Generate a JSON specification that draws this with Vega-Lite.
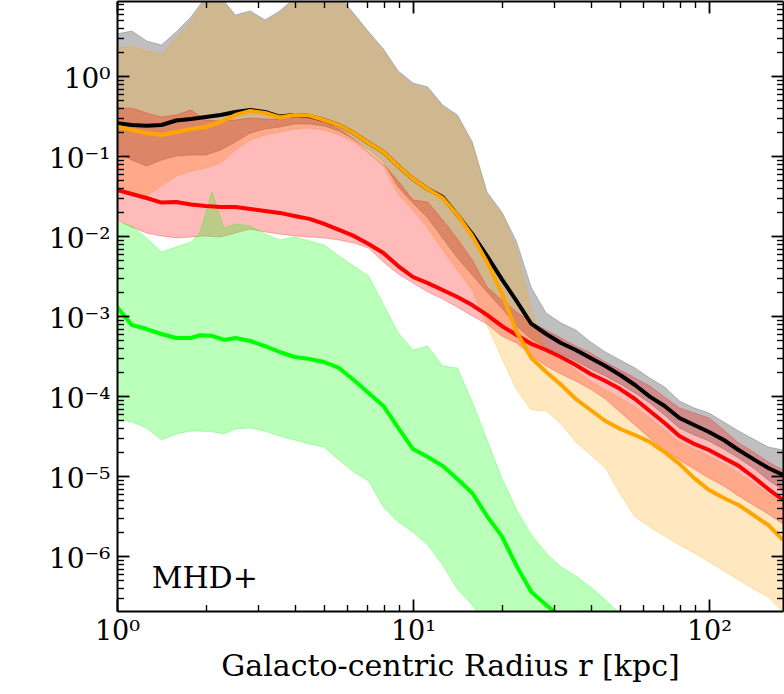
{
"$schema": "https://vega.github.io/schema/vega-lite/v6.json",
"width": 666, "height": 610,
"autosize": {"type": "none"},
"padding": {"left": 117, "top": 1, "right": 1, "bottom": 83},
"background": "white",
"config": {"view": {"stroke": null}, "axis": {"grid": false}},
"datasets": {"bands": [
{"s":"gray","r":1,"lo":0.1125,"hi":3.38,"m":0.2585},
{"s":"gray","r":1.122,"lo":0.09,"hi":3.68,"m":0.246},
{"s":"gray","r":1.259,"lo":0.0757,"hi":2.76,"m":0.241},
{"s":"gray","r":1.413,"lo":0.09,"hi":2.46,"m":0.246},
{"s":"gray","r":1.585,"lo":0.101,"hi":3.58,"m":0.28},
{"s":"gray","r":1.778,"lo":0.1038,"hi":5.51,"m":0.292},
{"s":"gray","r":1.995,"lo":0.1038,"hi":9.8,"m":0.31},
{"s":"gray","r":2.239,"lo":0.12,"hi":9.8,"m":0.328},
{"s":"gray","r":2.512,"lo":0.151,"hi":5.84,"m":0.358},
{"s":"gray","r":2.818,"lo":0.1955,"hi":6.55,"m":0.379},
{"s":"gray","r":3.162,"lo":0.2195,"hi":5.06,"m":0.358},
{"s":"gray","r":3.548,"lo":0.2324,"hi":6.55,"m":0.314},
{"s":"gray","r":3.981,"lo":0.2535,"hi":9.5,"m":0.328},
{"s":"gray","r":4.467,"lo":0.2535,"hi":11.3,"m":0.319},
{"s":"gray","r":5.012,"lo":0.2393,"hi":11.3,"m":0.284},
{"s":"gray","r":5.623,"lo":0.207,"hi":10.1,"m":0.246},
{"s":"gray","r":6.31,"lo":0.1645,"hi":6.1,"m":0.195},
{"s":"gray","r":7.079,"lo":0.12,"hi":3.6,"m":0.1466},
{"s":"gray","r":7.943,"lo":0.0849,"hi":2.19,"m":0.113},
{"s":"gray","r":8.913,"lo":0.0413,"hi":1.165,"m":0.0757},
{"s":"gray","r":10,"lo":0.0261,"hi":0.824,"m":0.052},
{"s":"gray","r":11.22,"lo":0.01694,"hi":0.735,"m":0.039},
{"s":"gray","r":12.59,"lo":0.00953,"hi":0.438,"m":0.031},
{"s":"gray","r":14.13,"lo":0.00536,"hi":0.328,"m":0.01846},
{"s":"gray","r":15.85,"lo":0.00328,"hi":0.151,"m":0.0107},
{"s":"gray","r":17.78,"lo":0.00201,"hi":0.0358,"m":0.00568},
{"s":"gray","r":19.95,"lo":0.00127,"hi":0.0201,"m":0.00292},
{"s":"gray","r":22.39,"lo":0.000757,"hi":0.0085,"m":0.00155},
{"s":"gray","r":25.12,"lo":0.00052,"hi":0.00226,"m":0.000802},
{"s":"gray","r":28.18,"lo":0.000402,"hi":0.0011,"m":0.000601},
{"s":"gray","r":31.62,"lo":0.000338,"hi":0.000824,"m":0.000464},
{"s":"gray","r":35.48,"lo":0.000276,"hi":0.000674,"m":0.000379},
{"s":"gray","r":39.81,"lo":0.000219,"hi":0.000478,"m":0.000301},
{"s":"gray","r":44.67,"lo":0.0001795,"hi":0.000358,"m":0.000239},
{"s":"gray","r":50.12,"lo":0.0001426,"hi":0.000284,"m":0.0001846},
{"s":"gray","r":56.23,"lo":0.00011,"hi":0.000226,"m":0.0001384},
{"s":"gray","r":63.1,"lo":8.24e-5,"hi":0.000169,"m":9.89e-5},
{"s":"gray","r":70.79,"lo":5.83e-5,"hi":0.000131,"m":7.57e-5},
{"s":"gray","r":79.43,"lo":4.02e-5,"hi":8.73e-5,"m":5.36e-5},
{"s":"gray","r":89.13,"lo":3.28e-5,"hi":7.14e-5,"m":4.38e-5},
{"s":"gray","r":100,"lo":2.76e-5,"hi":6.18e-5,"m":3.58e-5},
{"s":"gray","r":112.2,"lo":2.19e-5,"hi":4.77e-5,"m":2.84e-5},
{"s":"gray","r":125.9,"lo":1.69e-5,"hi":3.68e-5,"m":2.13e-5},
{"s":"gray","r":141.3,"lo":1.27e-5,"hi":2.92e-5,"m":1.64e-5},
{"s":"gray","r":158.5,"lo":8.99e-6,"hi":2.32e-5,"m":1.27e-5},
{"s":"gray","r":177.8,"lo":6.74e-6,"hi":2.13e-5,"m":1.04e-5},
{"s":"orange","r":1,"lo":0.0358,"hi":2.26,"m":0.2344},
{"s":"orange","r":1.122,"lo":0.0338,"hi":2.39,"m":0.2133},
{"s":"orange","r":1.259,"lo":0.0319,"hi":2.07,"m":0.1955},
{"s":"orange","r":1.413,"lo":0.0425,"hi":1.9,"m":0.1846},
{"s":"orange","r":1.585,"lo":0.0567,"hi":3.01,"m":0.2014},
{"s":"orange","r":1.778,"lo":0.0655,"hi":4.77,"m":0.2195},
{"s":"orange","r":1.995,"lo":0.0714,"hi":9.2,"m":0.2324},
{"s":"orange","r":2.239,"lo":0.0824,"hi":9.2,"m":0.2685},
{"s":"orange","r":2.512,"lo":0.12,"hi":5.5,"m":0.328},
{"s":"orange","r":2.818,"lo":0.16,"hi":6.2,"m":0.368},
{"s":"orange","r":3.162,"lo":0.1846,"hi":4.8,"m":0.3477},
{"s":"orange","r":3.548,"lo":0.2014,"hi":6.2,"m":0.3055},
{"s":"orange","r":3.981,"lo":0.2195,"hi":9.0,"m":0.328},
{"s":"orange","r":4.467,"lo":0.226,"hi":10.7,"m":0.3236},
{"s":"orange","r":5.012,"lo":0.2133,"hi":10.7,"m":0.284},
{"s":"orange","r":5.623,"lo":0.1846,"hi":9.5,"m":0.246},
{"s":"orange","r":6.31,"lo":0.151,"hi":5.75,"m":0.195},
{"s":"orange","r":7.079,"lo":0.11,"hi":3.4,"m":0.1466},
{"s":"orange","r":7.943,"lo":0.0757,"hi":2.07,"m":0.113},
{"s":"orange","r":8.913,"lo":0.0338,"hi":1.1,"m":0.0757},
{"s":"orange","r":10,"lo":0.0213,"hi":0.78,"m":0.052},
{"s":"orange","r":11.22,"lo":0.0127,"hi":0.69,"m":0.039},
{"s":"orange","r":12.59,"lo":0.00674,"hi":0.41,"m":0.0301},
{"s":"orange","r":14.13,"lo":0.00379,"hi":0.31,"m":0.01846},
{"s":"orange","r":15.85,"lo":0.00213,"hi":0.143,"m":0.01009},
{"s":"orange","r":17.78,"lo":0.000778,"hi":0.0319,"m":0.00477},
{"s":"orange","r":19.95,"lo":0.000301,"hi":0.019,"m":0.00195},
{"s":"orange","r":22.39,"lo":0.00012,"hi":0.00714,"m":0.000637},
{"s":"orange","r":25.12,"lo":6.74e-5,"hi":0.0012,"m":0.000301},
{"s":"orange","r":28.18,"lo":6.55e-5,"hi":0.000358,"m":0.000201},
{"s":"orange","r":31.62,"lo":4.51e-5,"hi":0.000284,"m":0.00014},
{"s":"orange","r":35.48,"lo":2.69e-5,"hi":0.000213,"m":9.25e-5},
{"s":"orange","r":39.81,"lo":1.85e-5,"hi":0.000155,"m":6.74e-5},
{"s":"orange","r":44.67,"lo":1.27e-5,"hi":0.00012,"m":4.91e-5},
{"s":"orange","r":50.12,"lo":6.01e-6,"hi":9.53e-5,"m":3.9e-5},
{"s":"orange","r":56.23,"lo":3.1e-6,"hi":7.35e-5,"m":3.28e-5},
{"s":"orange","r":63.1,"lo":2.32e-6,"hi":5.36e-5,"m":2.69e-5},
{"s":"orange","r":70.79,"lo":1.79e-6,"hi":3.79e-5,"m":2.01e-5},
{"s":"orange","r":79.43,"lo":1.38e-6,"hi":2.69e-5,"m":1.43e-5},
{"s":"orange","r":89.13,"lo":1.1e-6,"hi":2.19e-5,"m":9.5e-6},
{"s":"orange","r":100,"lo":8.49e-7,"hi":1.79e-5,"m":6.74e-6},
{"s":"orange","r":112.2,"lo":6.55e-7,"hi":1.43e-5,"m":5.36e-6},
{"s":"orange","r":125.9,"lo":5.06e-7,"hi":1.1e-5,"m":4.38e-6},
{"s":"orange","r":141.3,"lo":3.9e-7,"hi":8.24e-6,"m":3.28e-6},
{"s":"orange","r":158.5,"lo":3.1e-7,"hi":6.01e-6,"m":2.46e-6},
{"s":"orange","r":177.8,"lo":2.01e-7,"hi":4.63e-6,"m":1.6e-6},
{"s":"red","r":1,"lo":0.016,"hi":0.4,"m":0.0379},
{"s":"red","r":1.122,"lo":0.01306,"hi":0.4,"m":0.0338},
{"s":"red","r":1.259,"lo":0.011,"hi":0.3477,"m":0.0301},
{"s":"red","r":1.413,"lo":0.0101,"hi":0.31,"m":0.0264},
{"s":"red","r":1.585,"lo":0.00953,"hi":0.328,"m":0.0268},
{"s":"red","r":1.778,"lo":0.0098,"hi":0.379,"m":0.025},
{"s":"red","r":1.995,"lo":0.0101,"hi":0.284,"m":0.0239},
{"s":"red","r":2.239,"lo":0.0098,"hi":0.276,"m":0.0232},
{"s":"red","r":2.512,"lo":0.011,"hi":0.284,"m":0.0232},
{"s":"red","r":2.818,"lo":0.01234,"hi":0.301,"m":0.0219},
{"s":"red","r":3.162,"lo":0.01133,"hi":0.292,"m":0.0207},
{"s":"red","r":3.548,"lo":0.0107,"hi":0.292,"m":0.0196},
{"s":"red","r":3.981,"lo":0.0101,"hi":0.31,"m":0.0179},
{"s":"red","r":4.467,"lo":0.0098,"hi":0.301,"m":0.0165},
{"s":"red","r":5.012,"lo":0.00953,"hi":0.2685,"m":0.01426},
{"s":"red","r":5.623,"lo":0.009,"hi":0.2195,"m":0.012},
{"s":"red","r":6.31,"lo":0.00824,"hi":0.1645,"m":0.0101},
{"s":"red","r":7.079,"lo":0.00714,"hi":0.113,"m":0.00801},
{"s":"red","r":7.943,"lo":0.00477,"hi":0.0802,"m":0.00618},
{"s":"red","r":8.913,"lo":0.00338,"hi":0.0491,"m":0.00425},
{"s":"red","r":10,"lo":0.0026,"hi":0.0284,"m":0.0031},
{"s":"red","r":11.22,"lo":0.00201,"hi":0.0268,"m":0.0026},
{"s":"red","r":12.59,"lo":0.00164,"hi":0.016,"m":0.00213},
{"s":"red","r":14.13,"lo":0.0013,"hi":0.00925,"m":0.00174},
{"s":"red","r":15.85,"lo":0.00101,"hi":0.00506,"m":0.00138},
{"s":"red","r":17.78,"lo":0.0008,"hi":0.00232,"m":0.00104},
{"s":"red","r":19.95,"lo":0.000567,"hi":0.0016,"m":0.000757},
{"s":"red","r":22.39,"lo":0.000464,"hi":0.00113,"m":0.000583},
{"s":"red","r":25.12,"lo":0.000328,"hi":0.000849,"m":0.000451},
{"s":"red","r":28.18,"lo":0.000239,"hi":0.000674,"m":0.000379},
{"s":"red","r":31.62,"lo":0.00019,"hi":0.000536,"m":0.00031},
{"s":"red","r":35.48,"lo":0.000155,"hi":0.000425,"m":0.000246},
{"s":"red","r":39.81,"lo":0.000123,"hi":0.000348,"m":0.00019},
{"s":"red","r":44.67,"lo":9.25e-5,"hi":0.000268,"m":0.000155},
{"s":"red","r":50.12,"lo":6.37e-5,"hi":0.000213,"m":0.000123},
{"s":"red","r":56.23,"lo":4.38e-5,"hi":0.000169,"m":9.25e-5},
{"s":"red","r":63.1,"lo":3.01e-5,"hi":0.0001346,"m":6.55e-5},
{"s":"red","r":70.79,"lo":2.13e-5,"hi":9.8e-5,"m":4.64e-5},
{"s":"red","r":79.43,"lo":1.6e-5,"hi":7.14e-5,"m":3.19e-5},
{"s":"red","r":89.13,"lo":1.23e-5,"hi":6.18e-5,"m":2.54e-5},
{"s":"red","r":100,"lo":9.5e-6,"hi":5.36e-5,"m":2.13e-5},
{"s":"red","r":112.2,"lo":7.57e-6,"hi":3.79e-5,"m":1.69e-5},
{"s":"red","r":125.9,"lo":5.68e-6,"hi":2.61e-5,"m":1.35e-5},
{"s":"red","r":141.3,"lo":4.38e-6,"hi":2.01e-5,"m":9.8e-6},
{"s":"red","r":158.5,"lo":3.38e-6,"hi":1.51e-5,"m":6.93e-6},
{"s":"red","r":177.8,"lo":2.54e-6,"hi":1.2e-5,"m":5.06e-6},
{"s":"green","r":1,"lo":5.2e-5,"hi":0.0151,"m":0.001306},
{"s":"green","r":1.122,"lo":4.77e-5,"hi":0.01346,"m":0.000778},
{"s":"green","r":1.259,"lo":4.02e-5,"hi":0.00953,"m":0.000693},
{"s":"green","r":1.413,"lo":2.84e-5,"hi":0.00637,"m":0.000601},
{"s":"green","r":1.585,"lo":3.38e-5,"hi":0.00735,"m":0.000536},
{"s":"green","r":1.778,"lo":3.68e-5,"hi":0.0085,"m":0.000536},
{"s":"green","r":1.907,"lo":3.68e-5,"hi":0.0113,"m":0.00058},
{"s":"green","r":2.094,"lo":3.6e-5,"hi":0.0358,"m":0.00057},
{"s":"green","r":2.299,"lo":3.4e-5,"hi":0.0127,"m":0.000506},
{"s":"green","r":2.512,"lo":3.9e-5,"hi":0.01426,"m":0.000536},
{"s":"green","r":2.818,"lo":4.02e-5,"hi":0.01346,"m":0.000491},
{"s":"green","r":3.162,"lo":3.68e-5,"hi":0.0107,"m":0.000425},
{"s":"green","r":3.548,"lo":3.19e-5,"hi":0.009,"m":0.000358},
{"s":"green","r":3.981,"lo":2.84e-5,"hi":0.0098,"m":0.00031},
{"s":"green","r":4.467,"lo":2.54e-5,"hi":0.00873,"m":0.000293},
{"s":"green","r":5.012,"lo":2.32e-5,"hi":0.00778,"m":0.000268},
{"s":"green","r":5.623,"lo":1.6e-5,"hi":0.00568,"m":0.000226},
{"s":"green","r":6.31,"lo":1.13e-5,"hi":0.00425,"m":0.00016},
{"s":"green","r":7.079,"lo":8.73e-6,"hi":0.00319,"m":0.00011},
{"s":"green","r":7.943,"lo":4.13e-6,"hi":0.0014,"m":7.57e-5},
{"s":"green","r":8.913,"lo":2.69e-6,"hi":0.000618,"m":4.02e-5},
{"s":"green","r":10,"lo":2.01e-6,"hi":0.000379,"m":2.19e-5},
{"s":"green","r":11.22,"lo":1.38e-6,"hi":0.000425,"m":1.74e-5},
{"s":"green","r":12.59,"lo":7.79e-7,"hi":0.000239,"m":1.35e-5},
{"s":"green","r":14.13,"lo":3.9e-7,"hi":0.000226,"m":9.25e-6},
{"s":"green","r":15.85,"lo":2.46e-7,"hi":8.49e-5,"m":6.18e-6},
{"s":"green","r":17.78,"lo":1.38e-7,"hi":2.84e-5,"m":3.19e-6},
{"s":"green","r":19.95,"lo":1e-7,"hi":9.5e-6,"m":1.79e-6},
{"s":"green","r":22.39,"lo":1e-7,"hi":3.79e-6,"m":7.57e-7},
{"s":"green","r":25.12,"lo":1e-7,"hi":1.85e-6,"m":3.58e-7},
{"s":"green","r":28.18,"lo":1e-7,"hi":1.1e-6,"m":2.46e-7},
{"s":"green","r":31.62,"lo":1e-7,"hi":7.35e-7,"m":1.74e-7},
{"s":"green","r":35.48,"lo":1e-7,"hi":5.68e-7,"m":1.2e-7},
{"s":"green","r":39.81,"lo":1e-7,"hi":4.13e-7,"m":1e-7},
{"s":"green","r":44.67,"lo":1e-7,"hi":2.84e-7,"m":1e-7},
{"s":"green","r":50.12,"lo":1e-7,"hi":1.9e-7,"m":1e-7},
{"s":"green","r":56.23,"lo":1e-7,"hi":1.2e-7,"m":1e-7}
]},
"data": {"name": "bands"},
"resolve": {"axis": {"x": "independent", "y": "independent"}},
"layer": [
{"transform": [{"filter": "datum.s == 'gray'"}],
 "mark": {"type": "area", "clip": true, "color": "#808080", "fillOpacity": 0.5, "stroke": "#808080", "strokeOpacity": 0.5, "strokeWidth": 1},
 "encoding": {
  "x": {"field": "r", "type": "quantitative", "scale": {"type": "log", "domain": [1, 177.83], "nice": false},
   "axis": {"orient": "bottom", "values": [1, 10, 100], "labelExpr": "['10⁰','10¹','10²'][round(log(datum.value)/LN10)]", "tickSize": -12, "tickWidth": 1.8, "tickColor": "black", "domain": true, "domainColor": "black", "domainWidth": 2, "labelFont": "DejaVu Serif", "labelFontSize": 27, "labelColor": "black", "labelBaseline": "alphabetic", "labelPadding": 40, "labelFlush": false, "labelOverlap": false, "labelBound": false, "title": "Galacto-centric Radius r [kpc]", "titleFont": "DejaVu Serif", "titleFontSize": 30, "titleFontWeight": "normal", "titleColor": "black", "titleBaseline": "alphabetic", "titleY": 64, "titleX": 333, "grid": false, "zindex": 1}},
  "y": {"field": "hi", "type": "quantitative", "scale": {"type": "log", "domain": [2.071e-7, 8.735], "nice": false},
   "axis": {"orient": "left", "values": [1e-6, 1e-5, 1e-4, 1e-3, 1e-2, 1e-1, 1], "labelExpr": "['10⁻⁶','10⁻⁵','10⁻⁴','10⁻³','10⁻²','10⁻¹','10⁰'][round(log(datum.value)/LN10)+6]", "tickSize": -12, "tickWidth": 1.8, "tickColor": "black", "domain": true, "domainColor": "black", "domainWidth": 2, "labelFont": "DejaVu Serif", "labelFontSize": 28, "labelColor": "black", "labelBaseline": "alphabetic", "labelAlign": "right", "labelOffset": 11, "labelPadding": 19, "labelFlush": false, "labelOverlap": false, "labelBound": false, "title": null, "grid": false, "zindex": 1}},
  "y2": {"field": "lo"}}},
{"transform": [{"filter": "datum.s == 'orange'"}],
 "mark": {"type": "area", "clip": true, "color": "#FFA500", "fillOpacity": 0.25, "stroke": "#FFA500", "strokeOpacity": 0.25, "strokeWidth": 1},
 "encoding": {
  "x": {"field": "r", "type": "quantitative", "scale": {"type": "log", "domain": [1, 177.83], "nice": false},
   "axis": {"orient": "bottom", "values": [2,3,4,5,6,7,8,9,20,30,40,50,60,70,80,90], "labels": false, "tickSize": -6.5, "tickWidth": 1.4, "tickColor": "black", "domain": false, "title": null, "grid": false, "zindex": 1}},
  "y": {"field": "hi", "type": "quantitative", "scale": {"type": "log", "domain": [2.071e-7, 8.735], "nice": false},
   "axis": {"orient": "left", "values": [3e-7,4e-7,5e-7,6e-7,7e-7,8e-7,9e-7,2e-6,3e-6,4e-6,5e-6,6e-6,7e-6,8e-6,9e-6,2e-5,3e-5,4e-5,5e-5,6e-5,7e-5,8e-5,9e-5,2e-4,3e-4,4e-4,5e-4,6e-4,7e-4,8e-4,9e-4,2e-3,3e-3,4e-3,5e-3,6e-3,7e-3,8e-3,9e-3,2e-2,3e-2,4e-2,5e-2,6e-2,7e-2,8e-2,9e-2,0.2,0.3,0.4,0.5,0.6,0.7,0.8,0.9,2,3,4,5,6,7,8], "labels": false, "tickSize": -6.5, "tickWidth": 1.4, "tickColor": "black", "domain": false, "title": null, "grid": false, "zindex": 1}},
  "y2": {"field": "lo"}}},
{"transform": [{"filter": "datum.s == 'red'"}],
 "mark": {"type": "area", "clip": true, "color": "#FF0000", "fillOpacity": 0.27, "stroke": "#FF0000", "strokeOpacity": 0.27, "strokeWidth": 1},
 "encoding": {
  "x": {"field": "r", "type": "quantitative", "scale": {"type": "log", "domain": [1, 177.83], "nice": false},
   "axis": {"orient": "top", "values": [1, 10, 100], "labels": false, "tickSize": -12, "tickWidth": 1.8, "tickColor": "black", "domain": true, "domainColor": "black", "domainWidth": 2, "title": null, "grid": false, "zindex": 1}},
  "y": {"field": "hi", "type": "quantitative", "scale": {"type": "log", "domain": [2.071e-7, 8.735], "nice": false},
   "axis": {"orient": "right", "values": [1e-6, 1e-5, 1e-4, 1e-3, 1e-2, 1e-1, 1], "labels": false, "tickSize": -12, "tickWidth": 1.8, "tickColor": "black", "domain": true, "domainColor": "black", "domainWidth": 2, "title": null, "grid": false, "zindex": 1}},
  "y2": {"field": "lo"}}},
{"transform": [{"filter": "datum.s == 'green'"}],
 "mark": {"type": "area", "clip": true, "color": "#00FF00", "fillOpacity": 0.27, "stroke": "#00FF00", "strokeOpacity": 0.27, "strokeWidth": 1},
 "encoding": {
  "x": {"field": "r", "type": "quantitative", "scale": {"type": "log", "domain": [1, 177.83], "nice": false},
   "axis": {"orient": "top", "values": [2,3,4,5,6,7,8,9,20,30,40,50,60,70,80,90], "labels": false, "tickSize": -6.5, "tickWidth": 1.4, "tickColor": "black", "domain": false, "title": null, "grid": false, "zindex": 1}},
  "y": {"field": "hi", "type": "quantitative", "scale": {"type": "log", "domain": [2.071e-7, 8.735], "nice": false},
   "axis": {"orient": "right", "values": [3e-7,4e-7,5e-7,6e-7,7e-7,8e-7,9e-7,2e-6,3e-6,4e-6,5e-6,6e-6,7e-6,8e-6,9e-6,2e-5,3e-5,4e-5,5e-5,6e-5,7e-5,8e-5,9e-5,2e-4,3e-4,4e-4,5e-4,6e-4,7e-4,8e-4,9e-4,2e-3,3e-3,4e-3,5e-3,6e-3,7e-3,8e-3,9e-3,2e-2,3e-2,4e-2,5e-2,6e-2,7e-2,8e-2,9e-2,0.2,0.3,0.4,0.5,0.6,0.7,0.8,0.9,2,3,4,5,6,7,8], "labels": false, "tickSize": -6.5, "tickWidth": 1.4, "tickColor": "black", "domain": false, "title": null, "grid": false, "zindex": 1}},
  "y2": {"field": "lo"}}},
{"transform": [{"filter": "datum.s == 'green'"}],
 "mark": {"type": "line", "clip": true, "color": "#00FF00", "strokeWidth": 4, "strokeJoin": "round"},
 "encoding": {
  "x": {"field": "r", "type": "quantitative", "scale": {"type": "log", "domain": [1, 177.83], "nice": false}, "axis": null},
  "y": {"field": "m", "type": "quantitative", "scale": {"type": "log", "domain": [2.071e-7, 8.735], "nice": false}, "axis": null}}},
{"transform": [{"filter": "datum.s == 'red'"}],
 "mark": {"type": "line", "clip": true, "color": "#FF0000", "strokeWidth": 4, "strokeJoin": "round"},
 "encoding": {
  "x": {"field": "r", "type": "quantitative", "scale": {"type": "log", "domain": [1, 177.83], "nice": false}, "axis": null},
  "y": {"field": "m", "type": "quantitative", "scale": {"type": "log", "domain": [2.071e-7, 8.735], "nice": false}, "axis": null}}},
{"transform": [{"filter": "datum.s == 'gray'"}],
 "mark": {"type": "line", "clip": true, "color": "#000000", "strokeWidth": 4, "strokeJoin": "round"},
 "encoding": {
  "x": {"field": "r", "type": "quantitative", "scale": {"type": "log", "domain": [1, 177.83], "nice": false}, "axis": null},
  "y": {"field": "m", "type": "quantitative", "scale": {"type": "log", "domain": [2.071e-7, 8.735], "nice": false}, "axis": null}}},
{"transform": [{"filter": "datum.s == 'orange'"}],
 "mark": {"type": "line", "clip": true, "color": "#FFA500", "strokeWidth": 4, "strokeJoin": "round"},
 "encoding": {
  "x": {"field": "r", "type": "quantitative", "scale": {"type": "log", "domain": [1, 177.83], "nice": false}, "axis": null},
  "y": {"field": "m", "type": "quantitative", "scale": {"type": "log", "domain": [2.071e-7, 8.735], "nice": false}, "axis": null}}},
{"data": {"values": [{"r": 1.31, "v": 3.98e-7, "label": "MHD+"}]},
 "mark": {"type": "text", "align": "left", "baseline": "alphabetic", "font": "DejaVu Serif", "fontSize": 30, "color": "black"},
 "encoding": {
  "x": {"field": "r", "type": "quantitative", "scale": {"type": "log", "domain": [1, 177.83], "nice": false}, "axis": null},
  "y": {"field": "v", "type": "quantitative", "scale": {"type": "log", "domain": [2.071e-7, 8.735], "nice": false}, "axis": null},
  "text": {"field": "label"}}}
]
}
